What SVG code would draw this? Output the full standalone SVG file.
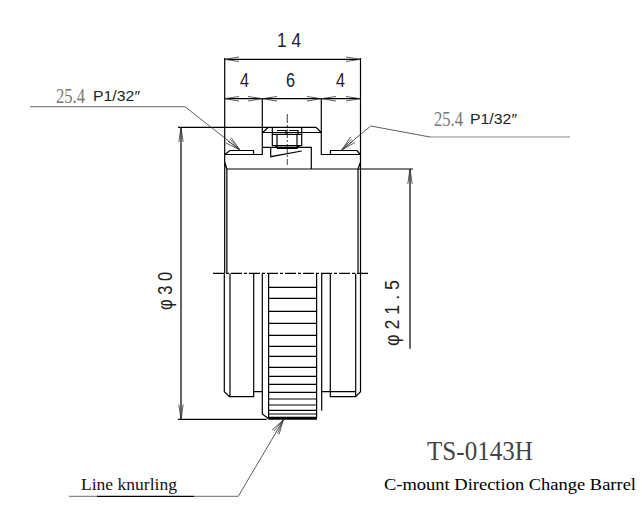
<svg xmlns="http://www.w3.org/2000/svg" width="642" height="522" viewBox="0 0 642 522">
<defs>
<style>
.l{fill:none;stroke:#000;stroke-width:1.2}
.t{fill:none;stroke:#111;stroke-width:.8}
.a{fill:none;stroke:#333;stroke-width:.8}
.g{fill:none;stroke:#888;stroke-width:1.2}
.d{font-family:"Liberation Sans",sans-serif;fill:#222}
.s{font-family:"Liberation Serif",serif;fill:#222}
</style>
</defs>
<rect width="642" height="522" fill="#fff"/>
<g id="part">
<path class="l" d="M224.7 154.5H262.3V132.5M262.3 132.5H321.3V154.5H360.3M224.7 154.5L230 150.5H253.5V154.5M360.3 154.5L357 150.5H330.5V154.5"/>
<path class="l" d="M178 127.3H316L321.3 132.5M268.3 127.3L262.7 132.5"/>
<path class="l" d="M262.5 147.3H270.7V156.7L301.7 151M270.7 147.3H311.3V169M226.7 169H413"/>
<path class="l" d="M224.7 58V273.5M360.5 58V273.5M226.9 169V273.5M358 169V273.5M224.7 162L226.9 169M360.5 162L358 169"/>
<path class="l" d="M272.3 127.5V146M301.7 127.5V146M272.3 134.3H301.7M272.3 145.7H301.7M275 145.7L277.5 148.3H297L299.5 145.7M277 134V148M297 134V148M277 130.5H286V134.3M289 130.5H298V134.3"/>
<path class="t" stroke-dasharray="9 2 2 2" d="M287.3 114V165"/>
<path class="l" stroke-dasharray="11 2 3 2" d="M213 273.3H370"/>
<path class="l" d="M224.3 273.5V391.7L229.5 396.7H253.7V273.5M230 273.5V396.7M253.7 391.7H262.3M262.3 273.5V414L268.3 418.5M268.6 273.5V418M316.6 273.5V418M321.7 273.5V410.7M321.7 391.7H355.7M330.3 273.5V396.7H355.7L360.5 391.7V273.5M355.7 273.5V396.7"/>
<path class="l" d="M268.6 287.3H316.6M268.6 298.3H316.6M268.6 311.3H316.6M268.6 323.3H316.6M268.6 335.3H316.6M268.6 346.3H316.6M268.6 356.3H316.6M268.6 367.3H316.6M268.6 376.3H316.6M268.6 384.3H316.6M268.6 392.3H316.6M268.6 399H316.6M268.6 405H316.6M268.6 410.3H316.6M268.6 414H316.6"/>
<path fill="none" stroke="#000" stroke-width="3" d="M268.3 418.3H317"/>
</g>
<g id="connectors">
<path class="l" d="M224.7 59.3H360.5M224.7 98.7H360.5M262.3 98.7V133M321.3 98.7V133"/>
<path class="a" d="M239 57L224.7 59.3L239 61.5M346 57L360.5 59.3L346 61.5M239 96.5L224.7 98.7L239 101M248 96.5L262.3 98.7L248 101M277 96.5L262.3 98.7L277 101M307 96.5L321.3 98.7L307 101M336 96.5L321.3 98.7L336 101M346 96.5L360.5 98.7L346 101"/>
<path class="l" d="M181 127.3V419.3M178 419.3H266.7M410 169V348.7"/>
<path class="a" d="M178.8 142L181 127.3L183.2 142M178.8 404.5L181 419.3L183.2 404.5M407.8 184L410 169L412.2 184"/>
<path class="g" stroke-width="1.4" d="M30 106.7H185"/>
<path class="a" d="M185 106.7L240 150M226 143L240 150L231 137.5M228 141L240 150L230 139"/>
<path class="g" d="M570 137H430"/>
<path class="a" d="M430 137L370.7 126L341.7 150M355 142.5L341.7 150L350.5 137M353 141L341.7 150L351.5 139"/>
<path class="g" d="M69 496.3H97M194 496.3H238.3"/>
<path class="l" d="M97 496.3H194"/>
<path class="a" d="M238.3 496.3L283.3 420M272 430L283.3 420L279 434.5M274 431L283.3 420L277.5 433.5"/>
</g>
<g id="labels">
<text class="d" x="277" y="47" font-size="20" textLength="24" lengthAdjust="spacingAndGlyphs">1 4</text>
<text class="d" x="240" y="87" font-size="20" textLength="9" lengthAdjust="spacingAndGlyphs">4</text>
<text class="d" x="286" y="87" font-size="20" textLength="9" lengthAdjust="spacingAndGlyphs">6</text>
<text class="d" x="336" y="87" font-size="20" textLength="9" lengthAdjust="spacingAndGlyphs">4</text>
<text class="s" x="56" y="103" font-size="21" textLength="29" lengthAdjust="spacingAndGlyphs" style="fill:#777">25.4</text>
<text class="d" x="93" y="101" font-size="15" textLength="47" lengthAdjust="spacingAndGlyphs">P1/32″</text>
<text class="s" x="434" y="126" font-size="21" textLength="29" lengthAdjust="spacingAndGlyphs" style="fill:#777">25.4</text>
<text class="d" x="470" y="124" font-size="15" textLength="47" lengthAdjust="spacingAndGlyphs">P1/32″</text>
<text class="d" font-size="20" textLength="38" lengthAdjust="spacingAndGlyphs" transform="translate(172 310) rotate(-90)">φ 3 0</text>
<text class="d" font-size="20" textLength="66" lengthAdjust="spacingAndGlyphs" transform="translate(399 346) rotate(-90)">φ 2 1 . 5</text>
<text class="s" x="81" y="490" font-size="17" textLength="96" lengthAdjust="spacingAndGlyphs" style="fill:#111">Line knurling</text>
<text class="s" x="427" y="460" font-size="27" textLength="106" lengthAdjust="spacingAndGlyphs" style="fill:#444">TS-0143H</text>
<text class="s" x="384" y="490" font-size="17" textLength="252" lengthAdjust="spacingAndGlyphs" style="fill:#000">C-mount Direction Change Barrel</text>
</g>
</svg>
